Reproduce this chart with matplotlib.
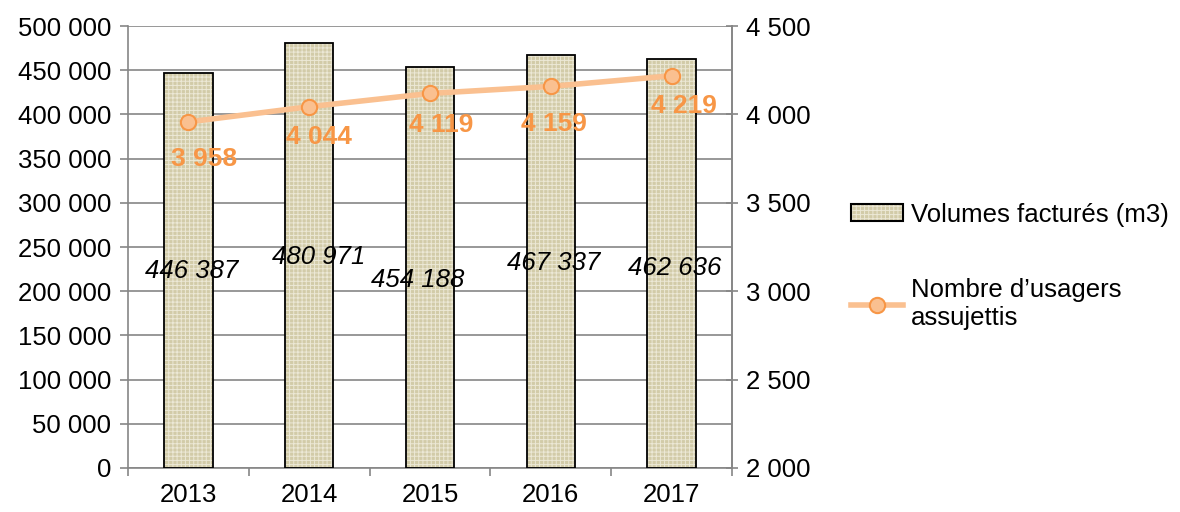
import matplotlib.pyplot as plt
from matplotlib.ticker import FuncFormatter, FixedLocator
from matplotlib.legend_handler import HandlerTuple

plt.rcParams['font.family'] = ['Liberation Sans', 'DejaVu Sans']
plt.rcParams['hatch.linewidth'] = 0.7

years = ['2013', '2014', '2015', '2016', '2017']
volumes = [446387, 480971, 454188, 467337, 462636]
usagers = [3958, 4044, 4119, 4159, 4219]

# small nudges (points) for the labels, as placed in the original
vol_dx = [2, 7, -9, 2, 2]
vol_dy = [0, -1, -9, -1, -3]
usr_dx = [11, 7, 8, 2, 9]
usr_dy = [-27, -22, -23, -27, -22]


def spaced(v, pos=None):
    return f"{int(v):,}".replace(",", " ")


fig = plt.figure(figsize=(11.8, 5.12), dpi=100)
ax = fig.add_axes([0.1085, 0.086, 0.5118, 0.863])
ax2 = ax.twinx()

x = list(range(len(years)))
grid_c = '#868686'
bar_c = '#D2CBA8'
tex_c = '#ECE8D6'
fs = 18.5

# bars: textured fill then black outline
ax.bar(x, volumes, width=0.4, color=bar_c, edgecolor=tex_c,
       hatch='++++', linewidth=0, zorder=2)
ax.bar(x, volumes, width=0.4, fill=False, edgecolor='black', linewidth=1.3, zorder=3)

for i, v in enumerate(volumes):
    ax.annotate(spaced(v), (i, v / 2), xytext=(vol_dx[i], vol_dy[i]),
                textcoords='offset points', ha='center', va='center',
                fontsize=fs, style='italic', zorder=5)

ax.set_ylim(0, 500000)
ax.set_yticks(range(0, 500001, 50000))
ax.yaxis.set_major_formatter(FuncFormatter(spaced))
ax.yaxis.grid(True, color=grid_c, linewidth=1.2, zorder=0)
ax.set_axisbelow(True)

ax.set_xlim(-0.5, 4.5)
ax.set_xticks(x)
ax.set_xticklabels(years)
ax.xaxis.set_minor_locator(FixedLocator([i - 0.5 for i in range(len(years) + 1)]))
ax.tick_params(axis='x', which='major', length=0, labelsize=fs, pad=11)
ax.tick_params(axis='x', which='minor', length=6, color=grid_c, width=1.2)
ax.tick_params(axis='y', length=6, color=grid_c, width=1.2, labelsize=fs, pad=6)

ax.spines['top'].set_visible(False)
ax2.spines['top'].set_visible(False)
for s in ['left', 'bottom', 'right']:
    ax.spines[s].set_color(grid_c)
    ax.spines[s].set_linewidth(1.2)
ax2.spines['right'].set_color(grid_c)
ax2.spines['right'].set_linewidth(1.2)
ax2.spines['left'].set_visible(False)
ax2.spines['bottom'].set_visible(False)

line_kw = dict(color='#FAC090', linewidth=4, marker='o', markersize=11,
               markerfacecolor='#FAC090', markeredgecolor='#F79646',
               markeredgewidth=1.5)
ax2.plot(x, usagers, zorder=4, **line_kw)
for i, u in enumerate(usagers):
    ax2.annotate(spaced(u), (i, u), xytext=(usr_dx[i], usr_dy[i]),
                 textcoords='offset points', ha='center', va='center',
                 fontsize=19, fontweight='bold', color='#F79646')

ax2.set_ylim(2000, 4500)
ax2.set_yticks(range(2000, 4501, 500))
ax2.yaxis.set_major_formatter(FuncFormatter(spaced))
ax2.tick_params(axis='y', direction='inout', length=8, color=grid_c, width=1.2,
                labelsize=fs, pad=6)

h_fill = plt.Rectangle((0, 0), 1, 1, facecolor=bar_c, edgecolor=tex_c,
                       hatch='++++', linewidth=0)
h_edge = plt.Rectangle((0, 0), 1, 1, fill=False, edgecolor='black', linewidth=1.5)
h_line, = ax2.plot([], [], **line_kw)
fig.legend([(h_fill, h_edge), h_line],
           ['Volumes facturés (m3)', 'Nombre d\u2019usagers\nassujettis'],
           handler_map={tuple: HandlerTuple(ndivide=1)},
           loc='center left', bbox_to_anchor=(0.702, 0.48), frameon=False,
           fontsize=fs, labelspacing=2.0, handlelength=2.0, handletextpad=0.3,
           handleheight=0.6)

fig.savefig('out.png', dpi=100)
